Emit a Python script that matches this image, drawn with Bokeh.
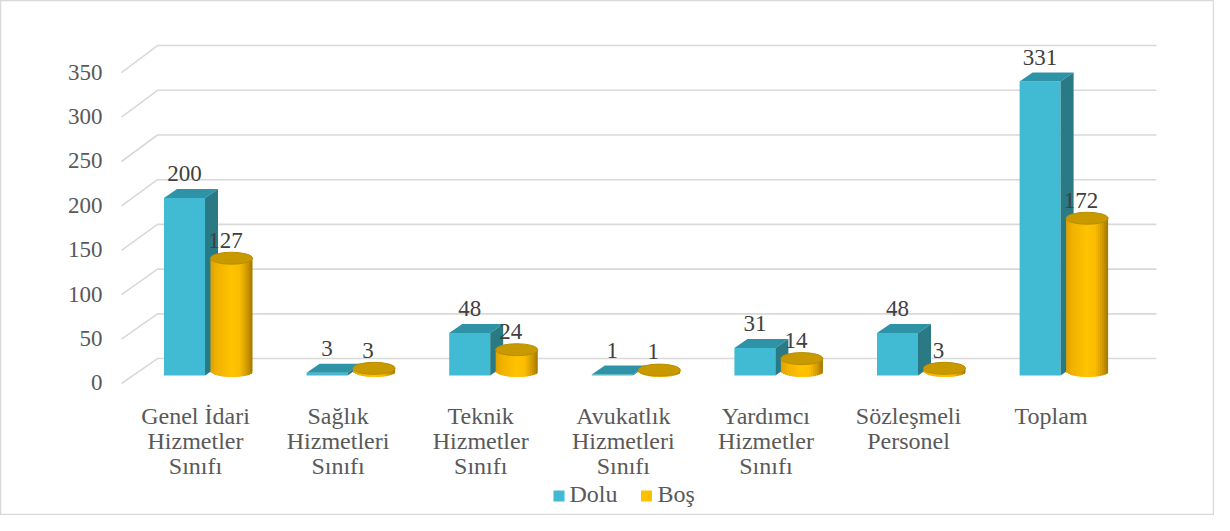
import math
from bokeh.plotting import figure
from bokeh.models import Range1d
from bokeh.core.properties import value
from bokeh.embed import file_html
from bokeh.resources import INLINE

# ---- data ----
categories = ["Genel İdari\nHizmetler\nSınıfı",
              "Sağlık\nHizmetleri\nSınıfı",
              "Teknik\nHizmetler\nSınıfı",
              "Avukatlık\nHizmetleri\nSınıfı",
              "Yardımcı\nHizmetler\nSınıfı",
              "Sözleşmeli\nPersonel",
              "Toplam"]
dolu = [200, 3, 48, 1, 31, 48, 331]
bos = [127, 3, 24, 1, 14, 3, 172]
series_names = ["Dolu", "Boş"]
y_ticks = [0, 50, 100, 150, 200, 250, 300, 350]

# ---- layout constants ----
W, H = 1214, 515
PX = 142.6      # px per category
PY = 0.888      # px per value unit
X0 = 195        # figure px of category 0 centre
Y0 = 375        # figure px of value 0 (bar front plane)
FONT = value("Liberation Serif, Times New Roman, serif")
TSHIFT = 8.5 / PY   # text baseline correction

def ux(px):
    return px / PX

def uy(px):
    return px / PY

p = figure(width=W, height=H,
           x_range=Range1d(-X0 / PX, (W - X0) / PX),
           y_range=Range1d((Y0 - H) / PY, Y0 / PY),
           output_backend="svg", toolbar_location=None,
           x_axis_type=None, y_axis_type=None, min_border=0)
p.outline_line_color = "#D9D9D9"
p.outline_line_width = 1.5
p.background_fill_color = "white"
p.border_fill_color = "white"

# ---- 3D gridlines (side wall diagonal + back wall) ----
gx_front = ux(121 - 195)
gx_back = ux(157 - 195)
gx_end = ux(1156 - 195)
xs, ys = [], []
for v in y_ticks:
    front = v - 9
    back = v * 1.007 + 19.1
    xs.append([gx_front, gx_back, gx_end])
    ys.append([front, back, back])
p.multi_line(xs, ys, line_color="#D9D9D9", line_width=1.6)

# tick labels
p.text(x=[ux(102 - 195)] * len(y_ticks), y=[v - 18 + TSHIFT for v in y_ticks],
       text=[str(v) for v in y_ticks], text_font=FONT, text_font_size="23px",
       text_color="#595959", text_align="right", text_baseline="alphabetic")

# ---- bars ----
half = ux(20.5)
ddx, ddy = ux(13), uy(9)
cw = ux(42)
base = uy(4.5)
cap = uy(6)

stops = [(0.0, (222, 160, 0)), (0.15, (240, 178, 0)), (0.5, (255, 195, 0)),
         (0.7, (250, 188, 0)), (0.88, (205, 150, 0)), (1.0, (160, 118, 0))]

def grad(t):
    for (t0, c0), (t1, c1) in zip(stops[:-1], stops[1:]):
        if t0 <= t <= t1:
            f = (t - t0) / (t1 - t0)
            return "#%02x%02x%02x" % tuple(int(round(a + (b - a) * f)) for a, b in zip(c0, c1))
    return "#%02x%02x%02x" % stops[-1][1]

n = 21
ov = ux(1.5)
for i, (vd, vb) in enumerate(zip(dolu, bos)):
    # box (Dolu)
    xc = i + ux(-11)
    l, r = xc - half, xc + half
    p.quad(left=[l], right=[r], bottom=[0], top=[vd],
           fill_color="#41BBD4", line_color=None)
    p.patches([[l, r, r + ddx, l + ddx], [r, r + ddx, r + ddx, r]],
              [[vd, vd, vd + ddy, vd + ddy], [0, ddy, vd + ddy, vd]],
              fill_color=["#2E93A6", "#2A7A86"], line_color=None)
    # cylinder (Boş)
    cx = i + ux(36)
    lefts, rights, bottoms, tops, cols = [], [], [], [], []
    for k in range(n):
        t0, t1 = k / n, (k + 1) / n
        tm = (t0 + t1) / 2
        lefts.append(cx - cw / 2 + t0 * cw)
        rights.append(min(cx - cw / 2 + t1 * cw + ov, cx + cw / 2))
        bottoms.append(base - cap * math.sqrt(max(0.0, 1 - (2 * tm - 1) ** 2)))
        tops.append(vb + base)
        cols.append(grad(tm))
    p.quad(left=lefts, right=rights, bottom=bottoms, top=tops,
           fill_color=cols, line_color=None)
    p.ellipse(x=[cx], y=[vb + base], width=[42], height=[12],
              width_units="screen", height_units="screen",
              fill_color="#C99A00", line_color="#B98C00", line_width=1)
    # value labels
    p.text(x=[xc], y=[vd + 18 + TSHIFT], text=[str(vd)], text_font=FONT,
           text_font_size="23px", text_color="#404040",
           text_align="center", text_baseline="alphabetic")
    p.text(x=[cx - ux(6)], y=[vb + 16 + TSHIFT], text=[str(vb)], text_font=FONT,
           text_font_size="23px", text_color="#404040",
           text_align="center", text_baseline="alphabetic")

# ---- category labels ----
cx_l, cy_l, ct_l = [], [], []
for i, c in enumerate(categories):
    for k, line in enumerate(c.split("\n")):
        cx_l.append(i)
        cy_l.append(uy(375 - 425 - 25 * k) + uy(9.5))
        ct_l.append(line)
p.text(x=cx_l, y=cy_l, text=ct_l, text_font=FONT, text_font_size="24px",
       text_color="#595959", text_align="center", text_baseline="alphabetic")

# ---- legend ----
leg_colors = ["#41BBD4", "#FFC000"]
sq_x = [ux(558.5 - 195), ux(646 - 195)]
tx_x = [ux(569 - 195), ux(657 - 195)]
p.scatter(x=sq_x, y=[uy(375 - 495.5)] * 2, marker="square", size=11,
          fill_color=leg_colors, line_color=None)
p.text(x=tx_x, y=[uy(375 - 502) + uy(8.5)] * 2, text=series_names, text_font=FONT,
       text_font_size="24px", text_color="#595959", text_align="left",
       text_baseline="alphabetic")

open("out.html", "w").write(file_html(p, INLINE))
